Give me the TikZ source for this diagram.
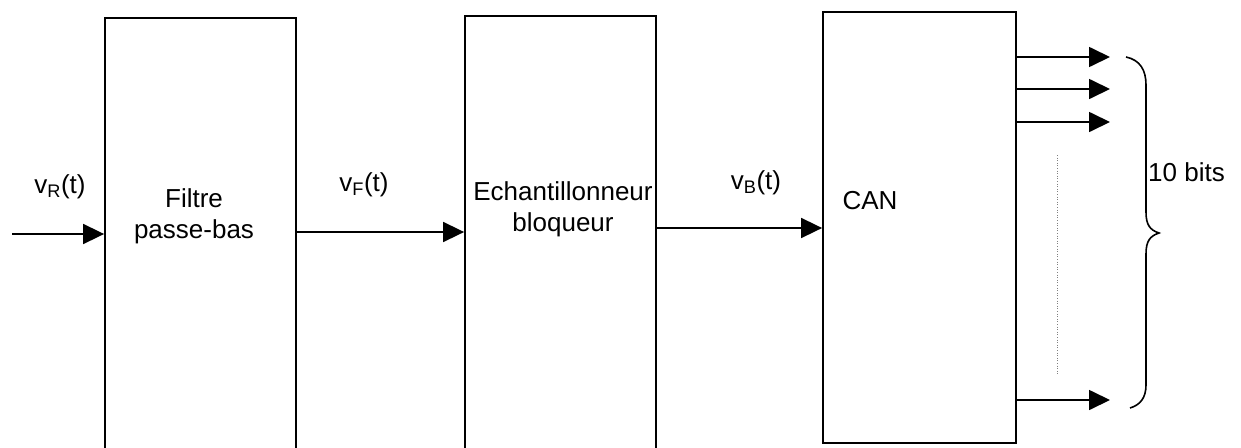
\documentclass[tikz,border=0pt]{standalone}
\usepackage{fontspec}
\setmainfont{Liberation Sans}
\usetikzlibrary{arrows.meta}
\begin{document}
\begin{tikzpicture}[x=1pt,y=-1pt,
  blk/.style={draw,line width=1.8pt,minimum width=191pt,inner sep=0pt},
  sig/.style={line width=1.7pt,-{Triangle[length=21pt,width=20pt]}},
  lbl/.style={font=\fontsize{26}{31}\selectfont,inner sep=0pt}]
\useasboundingbox (0,0) rectangle (1241,447);
\clip (0,0) rectangle (1241,447);
\node[blk,minimum height=438pt] (f) at (200.5,237) {};
\node[blk,minimum height=438pt] (e) at (560.5,235) {};
\node[blk,minimum width=193pt,minimum height=431pt] (c) at (919.5,227.5) {};
\node[lbl,align=center] (ft) at (194,216) {Filtre\\passe-bas};
\node[lbl,align=center] (et) at (563,209) {Echantillonneur\\bloqueur};
\node[lbl] (ct) at (870,201) {CAN};
\coordinate (in) at (12,234);
\draw[sig] (in) -- (in -| f.west);
\draw[sig] (f.east |- 0,232) -- (e.west |- 0,232);
\draw[sig] (e.east |- 0,228) -- (c.west |- 0,228);
\node[lbl] (vr) at (60,187) {v\textsubscript{R}(t)};
\node[lbl] (vf) at (364,185) {v\textsubscript{F}(t)};
\node[lbl] (vb) at (756,183) {v\textsubscript{B}(t)};
\coordinate (o1) at (1110,57);
\coordinate (o2) at (1110,89);
\coordinate (o3) at (1110,122);
\coordinate (o4) at (1110,400);
\foreach \o in {o1,o2,o3,o4} \draw[sig] (c.east |- \o) -- (\o);
\draw[gray,line width=0.9pt,dash pattern=on 1pt off 1.6pt] (1057,155) -- (1057,376);
\draw[line width=1.6pt] (1126,57) .. controls (1140,60) and (1146,70) .. (1146,85)
  -- (1146,212) .. controls (1146,225) and (1150,230) .. (1159,233)
  .. controls (1150,236) and (1146,241) .. (1146,254)
  -- (1146,385) .. controls (1146,398) and (1140,405) .. (1130,408);
\node[lbl,anchor=west] (bits) at (1148,172) {10 bits};
\end{tikzpicture}
\end{document}
